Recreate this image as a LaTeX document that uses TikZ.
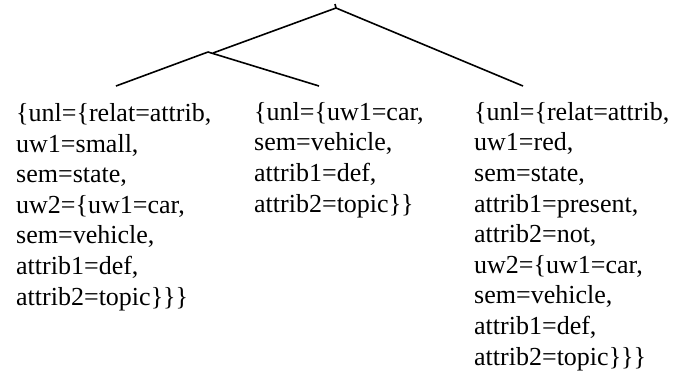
\documentclass[tikz,border=0pt]{standalone}
\usepackage{fontspec}
\setmainfont{Liberation Serif}
\begin{document}
\begin{tikzpicture}[x=1pt,y=-1pt,
  branch/.style={line width=1.6pt},
  feat/.style={anchor=base west, align=left, inner sep=0pt, font=\fontsize{26}{30.6}\selectfont}]
\useasboundingbox (0,0) rectangle (680,381);
\coordinate (root) at (336,8);
\coordinate (roottop) at (335,4);
\coordinate (inner) at (208,52);
\coordinate (innerin) at (213,53);
\coordinate (leafA) at (116,86);
\coordinate (leafB) at (319,86);
\coordinate (leafC) at (523,86);
\draw[branch] (roottop) -- (root);
\draw[branch] (root) -- (innerin);
\draw[branch] (root) -- (leafC);
\draw[branch] (inner) -- (leafA);
\draw[branch] (inner) -- (leafB);
% anchor = baseline of the last line
\node[feat] (colA) at (16,305) {\{unl=\{relat=attrib,\\uw1=small,\\sem=state,\\uw2=\{uw1=car,\\sem=vehicle,\\attrib1=def,\\attrib2=topic\}\}\}};
\node[feat] (colB) at (254,212) {\{unl=\{uw1=car,\\sem=vehicle,\\attrib1=def,\\attrib2=topic\}\}};
\node[feat] (colC) at (474,365) {\{unl=\{relat=attrib,\\uw1=red,\\sem=state,\\attrib1=present,\\attrib2=not,\\uw2=\{uw1=car,\\sem=vehicle,\\attrib1=def,\\attrib2=topic\}\}\}};
\end{tikzpicture}
\end{document}
